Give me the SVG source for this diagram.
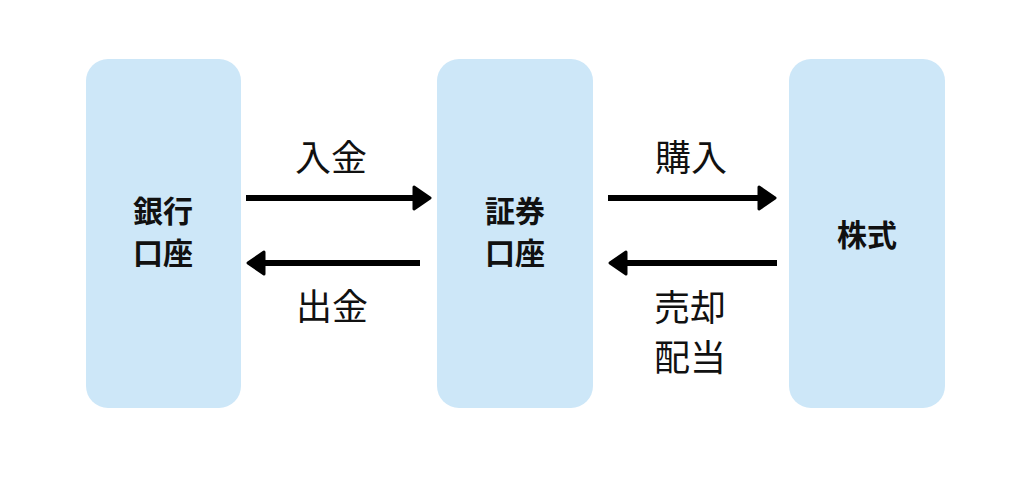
<svg xmlns="http://www.w3.org/2000/svg" width="1024" height="486" viewBox="0 0 1024 486">
<style>
.box{fill:#cde7f8;}
.node{font-family:"Noto Sans CJK JP","Noto Sans CJK SC",sans-serif;font-weight:bold;font-size:30px;fill:#111;text-anchor:middle;}
.lbl{font-family:"Noto Sans CJK JP","Noto Sans CJK SC",sans-serif;font-size:36px;fill:#111;text-anchor:middle;}
.conn{stroke:#000;stroke-width:6;fill:none;marker-end:url(#ah);}
</style>
<defs>
<marker id="ah" viewBox="0 0 20 26" refX="4" refY="13" markerWidth="20" markerHeight="26" markerUnits="userSpaceOnUse" orient="auto">
<path d="M2,2 L18,13 L2,24 Z" fill="#000" stroke="#000" stroke-width="3" stroke-linejoin="round"/>
</marker>
</defs>
<rect width="1024" height="486" fill="#fff"/>
<g id="bank">
<rect class="box" x="86" y="59" width="155" height="349" rx="22"/>
<text class="node" x="163" y="222">銀行</text>
<text class="node" x="163" y="264">口座</text>
</g>
<g id="securities">
<rect class="box" x="437" y="59" width="156" height="349" rx="22"/>
<text class="node" x="515" y="222">証券</text>
<text class="node" x="515" y="264">口座</text>
</g>
<g id="stock">
<rect class="box" x="789" y="59" width="156" height="349" rx="22"/>
<text class="node" x="867" y="246">株式</text>
</g>
<g id="connectors">
<line class="conn" x1="246" y1="198" x2="416" y2="198"/>
<line class="conn" x1="420" y1="263" x2="262" y2="263"/>
<line class="conn" x1="608" y1="198" x2="761" y2="198"/>
<line class="conn" x1="777" y1="263" x2="624" y2="263"/>
<text class="lbl" x="331" y="171">入金</text>
<text class="lbl" x="332" y="320">出金</text>
<text class="lbl" x="691" y="171">購入</text>
<text class="lbl" x="690" y="321">売却</text>
<text class="lbl" x="690" y="371">配当</text>
</g>
</svg>
